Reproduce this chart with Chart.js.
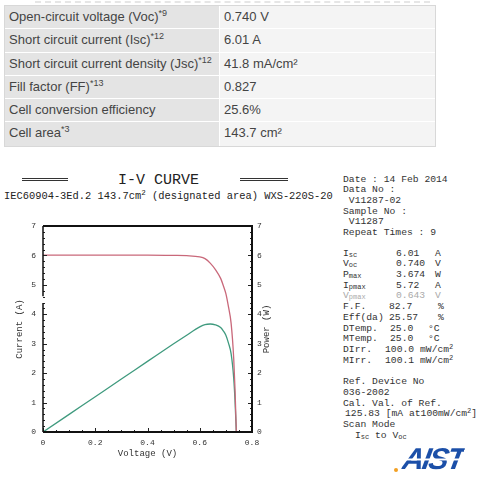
<!DOCTYPE html>
<html>
<head>
<meta charset="utf-8">
<script src="https://cdn.jsdelivr.net/npm/chart.js@4.4.0/dist/chart.umd.min.js"></script>
<style>
  body { margin: 0; width: 490px; height: 487px; background: #fff; position: relative; overflow: hidden; font-family: "Liberation Sans", Arial, sans-serif; }
  .dash { position: absolute; left: 35px; top: 1px; width: 395px; border-top: 2px dashed #e6e6e6; }
  .spec { position: absolute; left: 4px; top: 5px; width: 430px; border: 1px solid #d8d8d8; color: #444; font-size: 13px; }
  .row { display: flex; height: 23.3px; border-bottom: 1px solid #fff; box-sizing: border-box; }
  .row:last-child { border-bottom: 0; }
  .k { width: 215px; background: #e4e4e4; padding-left: 4px; line-height: 22.3px; border-right: 1px solid #fff; box-sizing: border-box; }
  .v { flex: 1; background: #f4f4f4; padding-left: 4px; line-height: 22.3px; }
  .k sup { font-size: 9px; vertical-align: 5px; line-height: 0; }
  .mono { font-family: "Liberation Mono", "Courier New", monospace; color: #222; position: absolute; white-space: pre; }
  .dbl { position: absolute; height: 1px; border-top: 1px solid #333; border-bottom: 1px solid #333; }
  #side { left: 343px; top: 174.6px; font-size: 9.7px; line-height: 10.7px; color: #333; white-space: normal; width: 147px; }
  #side div { position: relative; height: 10.7px; white-space: pre; }
  #side span { position: absolute; top: 0; }
  #side sub { font-size: 7px; vertical-align: -1px; line-height: 0; }
  #side sup { font-size: 7px; vertical-align: 3px; line-height: 0; }
  .faint { color: #aaa; }
  #chartbox { position: absolute; left: 0; top: 210px; width: 290px; height: 262px; }
  .logo { position: absolute; left: 403px; top: 444px; font: italic bold 30px "Liberation Sans", Arial, sans-serif; letter-spacing: -2px;
          transform: skewX(-10deg);
          background: repeating-linear-gradient(to bottom, #1b4fa8 0px, #1b4fa8 15px, #fff 15px, #fff 16px, #1b4fa8 16px, #1b4fa8 19px);
          -webkit-background-clip: text; background-clip: text; color: transparent; line-height: 30px; }
  .dot { position: absolute; left: 394px; top: 468px; width: 4px; height: 4px; border-radius: 2px; background: #f2a023; }
</style>
</head>
<body>
<div class="dash"></div>
<div class="spec">
  <div class="row"><div class="k">Open-circuit voltage (Voc)<sup>*9</sup></div><div class="v">0.740 V</div></div>
  <div class="row"><div class="k">Short circuit current (Isc)<sup>*12</sup></div><div class="v">6.01 A</div></div>
  <div class="row"><div class="k">Short circuit current density (Jsc)<sup>*12</sup></div><div class="v">41.8 mA/cm²</div></div>
  <div class="row"><div class="k">Fill factor (FF)<sup>*13</sup></div><div class="v">0.827</div></div>
  <div class="row"><div class="k">Cell conversion efficiency</div><div class="v">25.6%</div></div>
  <div class="row"><div class="k">Cell area<sup>*3</sup></div><div class="v">143.7 cm²</div></div>
</div>

<div class="dbl" style="left:22px;top:178px;width:46px"></div>
<div class="dbl" style="left:240px;top:178px;width:48px"></div>
<div class="mono" style="left:118px;top:172.5px;font-size:15px;line-height:16px">I-V CURVE</div>
<div class="mono" style="left:4px;top:190px;font-size:10.4px;line-height:12px">IEC60904-3Ed.2 143.7cm<sup style="font-size:7.5px;vertical-align:4px;line-height:0">2</sup> (designated area) WXS-220S-20</div>

<div id="side" class="mono">
  <div>Date : 14 Feb 2014</div>
  <div>Data No :</div>
  <div> V11287-02</div>
  <div>Sample No :</div>
  <div> V11287</div>
  <div>Repeat Times : 9</div>
  <div style="height:10px"></div>
  <div>I<sub>sc</sub><span style="left:53px">6.01</span><span style="left:92px">A</span></div>
  <div>V<sub>oc</sub><span style="left:53px">0.740</span><span style="left:92px">V</span></div>
  <div>P<sub>max</sub><span style="left:53px">3.674</span><span style="left:92px">W</span></div>
  <div>I<sub>pmax</sub><span style="left:53px">5.72</span><span style="left:92px">A</span></div>
  <div class="faint">V<sub>pmax</sub><span style="left:53px">0.643</span><span style="left:92px">V</span></div>
  <div>F.F.<span style="left:46px">82.7</span><span style="left:95px">%</span></div>
  <div>Eff(da)<span style="left:46px">25.57</span><span style="left:95px">%</span></div>
  <div>DTemp.<span style="left:47px">25.0</span><span style="left:85px">°C</span></div>
  <div>MTemp.<span style="left:47px">25.0</span><span style="left:85px">°C</span></div>
  <div>DIrr.<span style="left:42px">100.0</span><span style="left:77px">mW/cm<sup>2</sup></span></div>
  <div>MIrr.<span style="left:42px">100.1</span><span style="left:77px">mW/cm<sup>2</sup></span></div>
  <div style="height:11px"></div>
  <div>Ref. Device No</div>
  <div>036-2002</div>
  <div>Cal. Val. of Ref.</div>
  <div><span style="left:2px">125.83 [mA at100mW/cm<sup>2</sup>]</span></div>
  <div>Scan Mode</div>
  <div><span style="left:12px">I<sub>sc</sub> to V<sub>oc</sub></span></div>
</div>

<div class="logo">AIST</div>
<div class="dot"></div>

<div id="chartbox"><canvas id="iv" width="290" height="262"></canvas></div>

<script>
  // I-V curve (voltage in V, current in A, power in W)
  const voltage = [0, 0.1, 0.2, 0.3, 0.4, 0.5, 0.55, 0.6, 0.62, 0.64, 0.66, 0.68, 0.69, 0.70, 0.71, 0.72, 0.73, 0.735, 0.74];
  const current = [6.01, 6.01, 6.01, 6.01, 6.01, 6.00, 5.99, 5.95, 5.89, 5.74, 5.52, 5.22, 4.98, 4.70, 4.25, 3.70, 2.50, 1.45, 0];
  const power   = [0, 0.60, 1.20, 1.80, 2.40, 3.00, 3.29, 3.57, 3.65, 3.67, 3.64, 3.55, 3.44, 3.29, 3.02, 2.66, 1.83, 1.07, 0];

  const xTicks = [0, 0.2, 0.4, 0.6, 0.8];
  const yTicks = [0, 1, 2, 3, 4, 5, 6, 7];

  const tickFont = { family: 'Liberation Mono', size: 8 };
  const titleFont = { family: 'Liberation Mono', size: 9 };

  // frame, inward ticks and the right-hand axis title
  const framePlugin = {
    id: 'frame',
    afterDatasetsDraw(chart) {
      const { ctx, chartArea: a, scales } = chart;
      ctx.save();
      ctx.strokeStyle = '#222';
      ctx.lineWidth = 1;
      ctx.beginPath();
      for (let i = 0; i <= 16; i++) {
        const x = Math.round(scales.x.getPixelForValue(i * 0.05)) + 0.5;
        const len = i % 4 === 0 ? 4 : 2;
        ctx.moveTo(x, a.bottom); ctx.lineTo(x, a.bottom - len);
      }
      for (let i = 0; i <= 35; i++) {
        const y = Math.round(scales.y.getPixelForValue(i * 0.2)) + 0.5;
        const len = i % 5 === 0 ? 4 : 2;
        ctx.moveTo(a.left, y); ctx.lineTo(a.left + len, y);
        ctx.moveTo(a.right, y); ctx.lineTo(a.right - len, y);
      }
      ctx.stroke();

      ctx.lineWidth = 2;
      ctx.strokeStyle = '#111';
      ctx.beginPath();
      ctx.moveTo(a.left, a.top); ctx.lineTo(a.right, a.top);
      ctx.lineTo(a.right, a.bottom); ctx.lineTo(a.left, a.bottom);
      ctx.stroke();
      ctx.lineWidth = 1.5;
      ctx.beginPath();
      ctx.moveTo(a.left, a.bottom); ctx.lineTo(a.left, scales.y.getPixelForValue(4.38));
      ctx.moveTo(a.left, scales.y.getPixelForValue(4.61)); ctx.lineTo(a.left, a.top);
      ctx.stroke();

      ctx.fillStyle = '#333';
      ctx.font = '9px "Liberation Mono"';
      ctx.textAlign = 'center';
      ctx.textBaseline = 'middle';
      ctx.translate(267, (a.top + a.bottom) / 2);
      ctx.rotate(-Math.PI / 2);
      ctx.fillText('Power (W)', 0, 0);
      ctx.restore();
    }
  };

  new Chart(document.getElementById('iv'), {
    type: 'line',
    data: {
      datasets: [{
        label: 'Current',
        data: voltage.map((v, i) => ({ x: v, y: current[i] })),
        borderColor: '#c9687a',
        borderWidth: 1.3,
        pointRadius: 0,
        cubicInterpolationMode: 'monotone',
        yAxisID: 'y'
      }, {
        label: 'Power',
        data: voltage.map((v, i) => ({ x: v, y: power[i] })),
        borderColor: '#3f9a7e',
        borderWidth: 1.3,
        pointRadius: 0,
        cubicInterpolationMode: 'monotone',
        yAxisID: 'y1'
      }]
    },
    options: {
      responsive: false,
      animation: false,
      devicePixelRatio: 1,
      layout: { padding: { top: 16, left: 0, right: 0, bottom: 0 } },
      plugins: { legend: { display: false }, tooltip: { enabled: false } },
      scales: {
        x: {
          type: 'linear', min: 0, max: 0.8,
          afterFit(s) { s.height = 40; },
          afterBuildTicks(s) { s.ticks = xTicks.map(v => ({ value: v })); },
          grid: { display: false, drawTicks: false },
          border: { display: false },
          ticks: { font: tickFont, color: '#333', padding: 6, maxRotation: 0,
                   callback: v => v === 0 ? '0' : v.toFixed(1) },
          title: { display: true, text: 'Voltage (V)', font: titleFont, color: '#333', padding: { top: 0, bottom: 12.6 } }
        },
        y: {
          position: 'left', min: 0, max: 7,
          afterFit(s) { s.width = 43; },
          afterBuildTicks(s) { s.ticks = yTicks.map(v => ({ value: v })); },
          grid: { display: false, drawTicks: false },
          border: { display: false },
          ticks: { font: tickFont, color: '#333', padding: 7 },
          title: { display: true, text: 'Current (A)', font: titleFont, color: '#333', padding: { top: 14, bottom: 0 } }
        },
        y1: {
          position: 'right', min: 0, max: 7,
          afterFit(s) { s.width = 38; },
          afterBuildTicks(s) { s.ticks = yTicks.map(v => ({ value: v })); },
          grid: { display: false, drawTicks: false },
          border: { display: false },
          ticks: { font: tickFont, color: '#333', padding: 5 }
        }
      }
    },
    plugins: [framePlugin]
  });
</script>
</body>
</html>
